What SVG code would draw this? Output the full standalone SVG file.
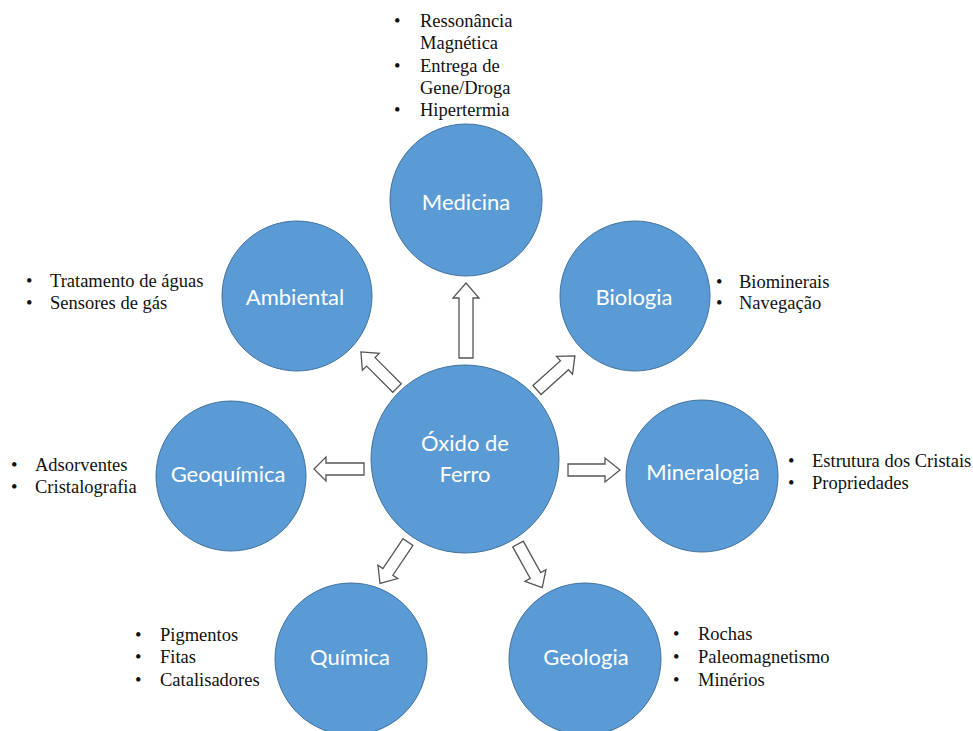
<svg xmlns="http://www.w3.org/2000/svg" width="973" height="731" viewBox="0 0 973 731">
<style>
.node circle{fill:#5B9BD5;stroke:#41719C;stroke-width:1}
.lbl{font-family:Lato,"Open Sans",sans-serif;font-size:22px;fill:#fff;text-anchor:middle}
.lst{font-family:"Liberation Serif","Times New Roman",serif;font-size:18.5px;fill:#111}
.arr{fill:#fff;stroke:#555;stroke-width:1.3;stroke-linejoin:miter}
</style>
<rect width="973" height="731" fill="#fff"/>
<g id="connectors">
<path class="arr" transform="translate(466,358) rotate(-90)" d="M0,-7 H60 V-13 L75,0 L60,13 V7 H0 Z"/>
<path class="arr" transform="translate(568,470) rotate(0)" d="M0,-6 H37 V-12 L52,0 L37,12 V6 H0 Z"/>
<path class="arr" transform="translate(364,469) rotate(180)" d="M0,-6 H38 V-12 L50,0 L38,12 V6 H0 Z"/>
<path class="arr" transform="translate(397,388) rotate(-135)" d="M0,-6 H37 V-12 L51,0 L37,12 V6 H0 Z"/>
<path class="arr" transform="translate(537,390) rotate(-42)" d="M0,-6 H37 V-12 L51,0 L37,12 V6 H0 Z"/>
<path class="arr" transform="translate(408,542) rotate(124)" d="M0,-6 H36 V-12 L50,0 L36,12 V6 H0 Z"/>
<path class="arr" transform="translate(518,544) rotate(61)" d="M0,-6 H36 V-12 L50,0 L36,12 V6 H0 Z"/>
</g>
<g id="oxido" class="node"><circle cx="465" cy="459" r="94"/><text class="lbl" x="465" y="451">Óxido de</text><text class="lbl" x="465" y="482">Ferro</text></g>
<g id="medicina" class="node"><circle cx="466" cy="200" r="76"/><text class="lbl" x="466" y="210">Medicina</text></g>
<g id="biologia" class="node"><circle cx="635" cy="296" r="75"/><text class="lbl" x="634" y="305">Biologia</text></g>
<g id="mineralogia" class="node"><circle cx="702" cy="476" r="76"/><text class="lbl" x="703" y="480">Mineralogia</text></g>
<g id="geologia" class="node"><circle cx="585" cy="659" r="76"/><text class="lbl" x="586" y="665">Geologia</text></g>
<g id="quimica" class="node"><circle cx="351" cy="659" r="76"/><text class="lbl" x="350" y="665">Química</text></g>
<g id="geoquimica" class="node"><circle cx="231" cy="476" r="75"/><text class="lbl" x="228" y="482">Geoquímica</text></g>
<g id="ambiental" class="node"><circle cx="297" cy="296" r="75"/><text class="lbl" x="295" y="305">Ambiental</text></g>
<g id="list-medicina" class="lst">
<text x="394" y="27">•</text><text x="420" y="27">Ressonância</text>
<text x="420" y="49">Magnética</text>
<text x="394" y="72">•</text><text x="420" y="72">Entrega de</text>
<text x="420" y="94">Gene/Droga</text>
<text x="394" y="116">•</text><text x="420" y="116">Hipertermia</text>
</g>
<g id="list-ambiental" class="lst">
<text x="26" y="287">•</text><text x="50" y="287">Tratamento de águas</text>
<text x="26" y="309">•</text><text x="50" y="309">Sensores de gás</text>
</g>
<g id="list-biologia" class="lst">
<text x="716" y="288">•</text><text x="739" y="288">Biominerais</text>
<text x="716" y="309">•</text><text x="739" y="309">Navegação</text>
</g>
<g id="list-mineralogia" class="lst">
<text x="788" y="467">•</text><text x="812" y="467">Estrutura dos Cristais</text>
<text x="788" y="489">•</text><text x="812" y="489">Propriedades</text>
</g>
<g id="list-geoquimica" class="lst">
<text x="11" y="471">•</text><text x="35" y="471">Adsorventes</text>
<text x="11" y="493">•</text><text x="35" y="493">Cristalografia</text>
</g>
<g id="list-quimica" class="lst">
<text x="135" y="641">•</text><text x="160" y="641">Pigmentos</text>
<text x="135" y="663">•</text><text x="160" y="663">Fitas</text>
<text x="135" y="686">•</text><text x="160" y="686">Catalisadores</text>
</g>
<g id="list-geologia" class="lst">
<text x="673" y="640">•</text><text x="698" y="640">Rochas</text>
<text x="673" y="663">•</text><text x="698" y="663">Paleomagnetismo</text>
<text x="673" y="686">•</text><text x="698" y="686">Minérios</text>
</g>
</svg>
